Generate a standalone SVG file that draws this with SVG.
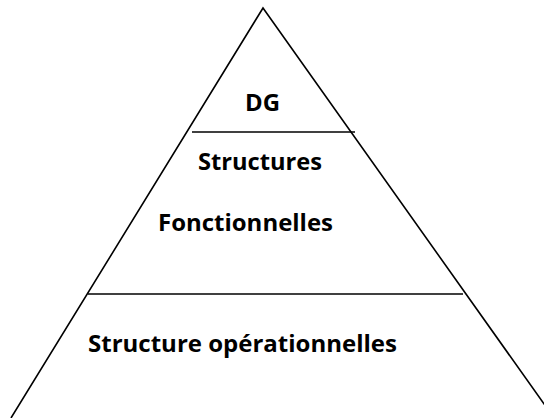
<svg xmlns="http://www.w3.org/2000/svg" width="544" height="418" viewBox="0 0 544 418">
<style>
.ln{stroke:#000;stroke-width:1.6;fill:none}
.t{font-family:"Open Sans","Noto Sans","Liberation Sans",sans-serif;font-weight:bold;font-size:23px;fill:#000}
</style>
<rect width="544" height="418" fill="#fff"/>
<g id="pyramid">
<path class="ln" d="M11,418 L263,8 L554,418"/>
<line class="ln" x1="192" y1="132" x2="355" y2="132"/>
<line class="ln" x1="88" y1="294" x2="463" y2="294"/>
</g>
<g id="dg"><text class="t" x="245" y="111" textLength="35" lengthAdjust="spacingAndGlyphs">DG</text></g>
<g id="structures"><text class="t" x="198" y="170" textLength="124" lengthAdjust="spacingAndGlyphs">Structures</text></g>
<g id="fonctionnelles"><text class="t" x="158" y="231" textLength="175" lengthAdjust="spacingAndGlyphs">Fonctionnelles</text></g>
<g id="operationnelles"><text class="t" x="88" y="352" textLength="309" lengthAdjust="spacingAndGlyphs">Structure opérationnelles</text></g>
</svg>
